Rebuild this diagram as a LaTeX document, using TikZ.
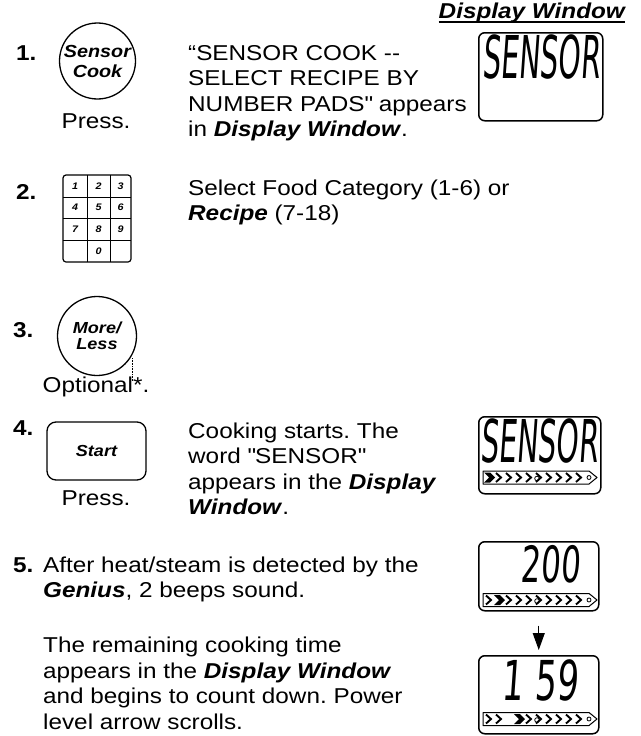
\documentclass[tikz,border=0pt]{standalone}
\usepackage{fontspec}
\setmainfont{Liberation Sans}[FakeStretch=1.13]
\newfontfamily\lcdword{DejaVu Sans}[FakeStretch=0.48,FakeSlant=0.07]
\newfontfamily\lcdnum{DejaVu Sans}[FakeStretch=0.62,FakeSlant=0.07]
\usetikzlibrary{arrows.meta,positioning}
\frenchspacing

\tikzset{
    % multi-line text: placed at the baseline of its last line
    bodytext/.style={anchor=base west, inner sep=0pt, align=left,
        font=\fontsize{21.5}{25.5}\selectfont},
    stepno/.style={anchor=base west, inner sep=0pt,
        font=\fontsize{21.5}{25.5}\selectfont\bfseries},
    undertext/.style={anchor=base, inner sep=0pt,
        font=\fontsize{21.5}{25.5}\selectfont},
    keytext/.style={align=center, inner sep=0pt,
        font=\fontsize{16}{16}\selectfont\bfseries\itshape},
    roundkey/.style={keytext, draw, circle, line width=1.3pt},
    padnum/.style={inner sep=0pt, font=\fontsize{9.5}{10}\selectfont\bfseries\itshape},
    lcdbox/.style={draw, line width=1.5pt, rounded corners=6pt, inner sep=0pt,
        anchor=north west},
    lcdtext/.style={inner sep=0pt, anchor=base east},
    % arrow between the two time displays
    downarrow/.style={line width=1pt, -{Triangle[length=17pt, width=12pt]},
        shorten <=14pt, shorten >=5pt}
}

% power level bar: #1 centre y, #2 solid chevron, #3 empty slot
\newcommand{\powerbar}[3]{%
  \draw[line width=1pt, line join=round] (483,#1-6.5) -- (589,#1-6.5) -- (597,#1)
      -- (589,#1+6.5) -- (483,#1+6.5) -- cycle;
  \foreach \k in {0,...,9}{
    \pgfmathsetmacro{\cx}{486+\k*10}
    \ifnum\k=#2
      \fill (\cx-2,#1-5) -- (\cx+4,#1-5) -- (\cx+9,#1) -- (\cx+4,#1+5)
          -- (\cx-2,#1+5) -- (\cx+3,#1) -- cycle;
    \else\ifnum\k=#3\else
      \draw[line width=1.9pt] (\cx,#1-4.5) -- (\cx+5,#1) -- (\cx,#1+4.5);
    \fi\fi
  }
  \draw[line width=0.8pt] (537,#1+1) circle (2.3pt) (589,#1) circle (2pt);
}

\begin{document}
\begin{tikzpicture}[x=1pt, y=-1pt]
\useasboundingbox (0,0) rectangle (640,736);

% header
\node[anchor=base east, inner sep=0pt,
      font=\fontsize{21.5}{25.5}\selectfont\bfseries\itshape] (header) at (625,19) {Display Window};
\draw[line width=1.4pt] ([yshift=-3pt]header.base west) -- ([yshift=-3pt]header.base east);

% ===== step 1 =====
\node[stepno] (n1) at (16,60) {1.};
\node[roundkey, minimum size=76pt, font=\fontsize{17.5}{20}\selectfont\bfseries\itshape]
    (sensorkey) at (97.5,61) {Sensor\\Cook};
\node[undertext] (press1) at (96,128) {Press.};
\node[bodytext] (text1) at (188,136.5) {“SENSOR COOK -{}-\\SELECT RECIPE BY\\NUMBER PADS\textquotedbl{} appears\\in \textbf{\textit{Display Window}}.};
\node[lcdbox, minimum width=124pt, minimum height=88pt] (disp1) at (478,32) {};
\node[lcdtext, font=\fontsize{59}{59}\lcdword] (word1) at (600,78) {SENSOR};

% ===== step 2 =====
\node[stepno] (n2) at (16,199) {2.};
\draw[line width=1.2pt, rounded corners=3pt] (63,175) rectangle (131,262);
\draw[line width=0.9pt] (87,175) -- (87,262) (110,175) -- (110,262)
    (63,197) -- (131,197) (63,218) -- (131,218) (63,240) -- (131,240);
\foreach \d/\cx/\cy in {1/75/186, 2/98.5/186, 3/120.5/186,
                         4/75/207.5, 5/98.5/207.5, 6/120.5/207.5,
                         7/75/229, 8/98.5/229, 9/120.5/229, 0/98.5/251}
    \node[padnum] (pad\d) at (\cx,\cy) {\d};
\node[bodytext] (text2) at (188,220.5) {Select Food Category (1-6) or\\\textbf{\textit{Recipe}} (7-18)};

% ===== step 3 =====
\node[stepno] (n3) at (13,337) {3.};
\node[roundkey, minimum size=79pt] (morekey) at (97,336) {More/\\Less};
\node[undertext] (optional) at (96,392) {Optional*.};
\draw[densely dotted, line width=0.6pt] (132,358) -- (132,381);

% ===== step 4 =====
\node[stepno] (n4) at (13,435) {4.};
\node[keytext, draw, line width=1.3pt, rounded corners=9pt,
      minimum width=99pt, minimum height=58pt] (startkey) at (96.5,451) {Start};
\node[undertext] (press4) at (96,505) {Press.};
\node[bodytext] (text4) at (188,514.5) {Cooking starts. The\\word \textquotedbl SENSOR\textquotedbl\\appears in the \textbf{\textit{Display}}\\\textbf{\textit{Window}}.};
\node[lcdbox, minimum width=122pt, minimum height=77pt] (disp2) at (478,416) {};
\node[lcdtext, font=\fontsize{59}{59}\lcdword] (word2) at (598,462) {SENSOR};
\powerbar{477.5}{0}{-1}

% ===== step 5 =====
\node[stepno] (n5) at (13,572) {5.};
\node[bodytext] (text5) at (43,597.5) {After heat/steam is detected by the\\\textbf{\textit{Genius}}, 2 beeps sound.};
\node[bodytext] (text5b) at (43,729) {The remaining cooking time\\appears in the \textbf{\textit{Display Window}}\\and begins to count down. Power\\level arrow scrolls.};

\node[lcdbox, minimum width=120pt, minimum height=69pt] (disp3) at (478,541) {};
\node[lcdtext, font=\fontsize{50}{50}\lcdnum] (time1) at (580,582) {200};
\powerbar{600}{1}{-1}
\node[lcdbox, minimum width=120pt, minimum height=78pt] (disp4) at (478,655) {};
\node[lcdtext, font=\fontsize{55}{55}\lcdnum] (time2) at (578,700) {1 59};
\powerbar{719}{3}{2}
\draw[downarrow] (disp3) -- (disp4);
\end{tikzpicture}
\end{document}
